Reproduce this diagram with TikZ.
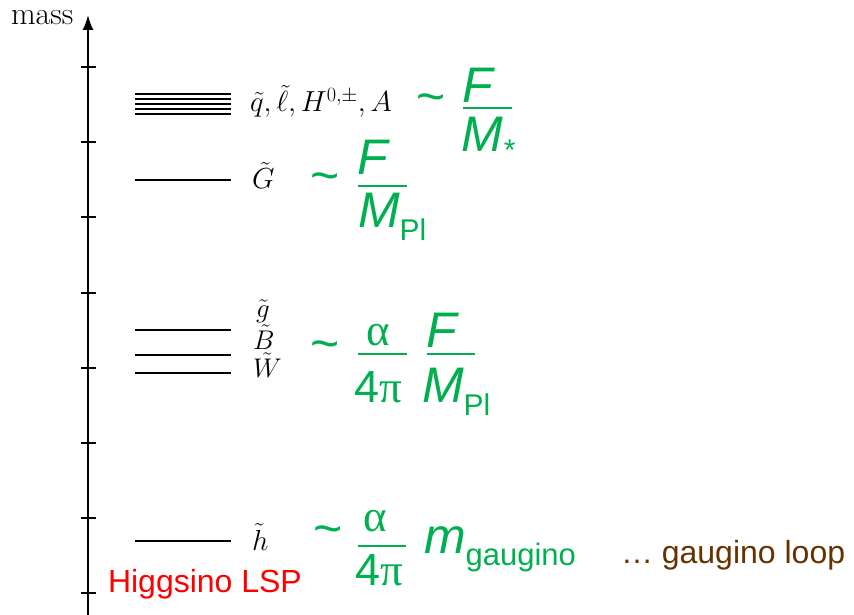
\RequirePackage{fix-cm}
\documentclass[tikz,border=0pt]{standalone}
\usepackage{amsmath}
\usepackage{fontspec}
\usetikzlibrary{arrows.meta}

\newfontfamily\arialf{Liberation Sans}
\newfontfamily\timesf{Liberation Serif}
\definecolor{lsgreen}{RGB}{0,176,80}
\definecolor{loopbrown}{RGB}{102,51,0}
\newcommand\lowsub[1]{\raisebox{-13pt}{\fontsize{30}{30}\selectfont #1}}

\begin{document}
\begin{tikzpicture}[x=1pt, y=-1pt,
  every node/.style={inner sep=0pt, outer sep=0pt},
  level/.style={line width=1.8pt},
  bar/.style={lsgreen, line width=2.6pt},
  lbl/.style={anchor=base west, font=\fontsize{29}{29}\selectfont},
  small lbl/.style={anchor=base west, font=\fontsize{27}{27}\selectfont},
  big/.style={anchor=base west, text=lsgreen, font=\arialf\fontsize{50}{50}\selectfont},
  coup/.style={anchor=base west, text=lsgreen, font=\arialf\fontsize{45}{45}\selectfont},
  sim/.style={text=lsgreen, font=\arialf\fontsize{50}{50}\selectfont}
]
\useasboundingbox (0,0) rectangle (854,615);

% mass axis
\node[lbl, font=\fontsize{32}{32}\selectfont] (mass) at (11,25) {mass};
\coordinate (bot) at (88,615);
\coordinate (top) at (88,15);
\draw[line width=1.9pt, -{Latex[length=15pt,width=11pt]}] (bot) -- (top);
\foreach \k in {0,...,7}
  \draw[line width=1.9pt] (81,{67+75.2*\k}) -- (96,{67+75.2*\k});

% squarks, sleptons, heavy Higgses
\foreach \y in {94,99,104,109,114}
  \draw[level] (135,\y) -- (231,\y);
\node[lbl] (sq) at (250,112) {$\tilde q, \tilde\ell, H^{0,\pm}, A$};
\node[sim] (sqsim) at (431,104) {\textasciitilde};
\node[big] (sqF) at (462,103) {\itshape F};
\draw[bar] (463,108) -- (512,108);
\node[big] (sqM) at (461,152) {\itshape M\raisebox{-9pt}{\fontsize{30}{30}\selectfont *}};

% gravitino
\draw[level] (135,180) -- (231,180);
\node[lbl] (grav) at (252,189) {$\tilde G$};
\node[sim] (gravsim) at (325,183) {\textasciitilde};
\node[big] (gravF) at (357,175) {\itshape F};
\draw[bar] (358,186) -- (407,186);
\node[big] (gravM) at (358,227) {\itshape M\lowsub{\upshape Pl}};

% gauginos
\draw[level] (135,330) -- (231,330);
\draw[level] (135,355) -- (231,355);
\draw[level] (135,373) -- (231,373);
\node[small lbl] (glu) at (256,317) {$\tilde g$};
\node[small lbl] (bino) at (253,349) {$\tilde B$};
\node[small lbl] (wino) at (253,377) {$\tilde W$};
\node[sim] (gaugsim) at (325,351) {\textasciitilde};
\node[coup] (gaugal) at (366,345) {\timesf α};
\draw[bar] (358,354) -- (407,354);
\node[coup] (gaugpi) at (354,402) {4\timesf π};
\node[big] (gaugF) at (426,347) {\itshape F};
\draw[bar] (427,354) -- (475,354);
\node[big] (gaugM) at (422,402) {\itshape M\lowsub{\upshape Pl}};

% higgsino
\draw[level] (135,541) -- (231,541);
\node[lbl] (hig) at (252,550) {$\tilde h$};
\node[sim] (higsim) at (328,536) {\textasciitilde};
\node[coup] (higal) at (363,531) {\timesf α};
\draw[bar] (358,546) -- (406,546);
\node[coup] (higpi) at (355,585) {4\timesf π};
\node[big] (higm) at (424,553) {\itshape m\raisebox{-12pt}{\fontsize{31}{31}\selectfont\upshape gaugino}};
\node[anchor=base west, text=loopbrown, font=\arialf\fontsize{32}{32}\selectfont] (loop) at (621,563) {… gaugino loop};
\node[anchor=base west, text=red, font=\arialf\fontsize{32}{32}\selectfont] (lsp) at (108,592) {Higgsino LSP};
\end{tikzpicture}
\end{document}
